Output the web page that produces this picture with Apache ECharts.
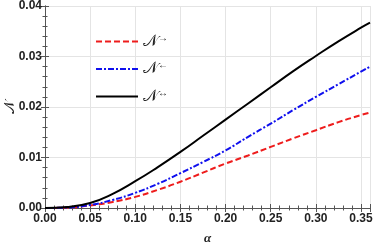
<!DOCTYPE html>
<html><head><meta charset="utf-8">
<script src="https://cdn.jsdelivr.net/npm/echarts@6/dist/echarts.min.js"></script>
<style>html,body{margin:0;padding:0;background:#fff}#c{width:374px;height:246px}</style>
</head><body><div id="c"></div>
<script>
const alpha = [0, 0.025, 0.05, 0.075, 0.10, 0.125, 0.15, 0.175, 0.20, 0.225, 0.25, 0.275, 0.30, 0.325, 0.35, 0.36];
const nRight = [0, 0.0001, 0.0005, 0.0012, 0.0022, 0.0036, 0.0052, 0.0070, 0.0088, 0.0104, 0.0121, 0.0138, 0.0154, 0.0170, 0.0184, 0.0189];
const nLeft  = [0, 0.0001, 0.0006, 0.0016, 0.0030, 0.0048, 0.0069, 0.0091, 0.0114, 0.0141, 0.0167, 0.0194, 0.0220, 0.0245, 0.0270, 0.0280];
const nBoth  = [0, 0.0002, 0.0010, 0.0028, 0.0053, 0.0081, 0.0111, 0.0143, 0.0175, 0.0207, 0.0239, 0.0271, 0.0301, 0.0330, 0.0357, 0.0367];
const seriesNames = ['→', '←', '↔'];

const pairs = ys => alpha.map((a, i) => [a, ys[i]]);
const axisLine = {show: true, lineStyle: {color: '#555', width: 1}};
const chart = echarts.init(document.getElementById('c'), null, {renderer: 'canvas'});
const lbl = {fontFamily: 'Liberation Sans', fontWeight: 'bold', fontSize: 12, color: '#222'};
chart.setOption({
  animation: false,
  grid: {left: 45, right: 4, top: 6, bottom: 38, containLabel: false, outerBoundsMode: 'none'},
  legend: {
    orient: 'vertical', left: 90, top: 28, itemWidth: 42, itemHeight: 12, itemGap: 11,
    itemStyle: {opacity: 0},
    formatter: n => '{n|𝒩}{s|' + n + '}',
    textStyle: {rich: {n: {fontFamily: 'DejaVu Serif', fontSize: 16, color: '#222'}, s: {fontSize: 10, color: '#222', verticalAlign: 'top', padding: [0,0,7,0]}}},
    data: seriesNames
  },
  xAxis: [{
    type: 'value', min: 0, max: 0.36, interval: 0.05, name: 'α', nameLocation: 'middle', nameGap: 24, nameMoveOverlap: false,
    nameTextStyle: {fontFamily: 'Liberation Serif', fontStyle: 'italic', fontWeight: 'bold', fontSize: 13, color: '#222'},
    axisLine, axisTick: {inside: true, length: 4, lineStyle: {color: '#555'}},
    minorTick: {show: true, splitNumber: 5, length: 2.5, lineStyle: {color: '#555'}},
    splitLine: {show: true, lineStyle: {color: '#e4e4e4'}},
    axisLabel: Object.assign({formatter: v => v.toFixed(2), margin: 5}, lbl)
  }, {
    type: 'value', position: 'top', min: 0, max: 0.36, interval: 0.05,
    axisLine, axisTick: {inside: true, length: 4, lineStyle: {color: '#555'}},
    minorTick: {show: true, splitNumber: 5, length: 2.5, lineStyle: {color: '#555'}},
    splitLine: {show: false}, axisLabel: {show: false}
  }],
  yAxis: [{
    type: 'value', min: 0, max: 0.04, interval: 0.01, name: '𝒩', nameLocation: 'middle', nameGap: 28, nameRotate: 90, nameMoveOverlap: false,
    nameTextStyle: {fontFamily: 'DejaVu Serif', fontSize: 14, color: '#222'},
    axisLine, axisTick: {inside: true, length: 4, lineStyle: {color: '#555'}},
    minorTick: {show: true, splitNumber: 5, length: 2.5, lineStyle: {color: '#555'}},
    splitLine: {show: true, lineStyle: {color: '#e4e4e4'}},
    axisLabel: Object.assign({formatter: v => v.toFixed(2), margin: 3}, lbl)
  }, {
    type: 'value', position: 'right', min: 0, max: 0.04, interval: 0.01,
    axisLine, axisTick: {inside: true, length: 4, lineStyle: {color: '#555'}},
    minorTick: {show: true, splitNumber: 5, length: 2.5, lineStyle: {color: '#555'}},
    splitLine: {show: false}, axisLabel: {show: false}
  }],
  series: [
    {name: seriesNames[0], type: 'line', smooth: 0.5, symbol: 'none', data: pairs(nRight),
     itemStyle: {color: '#ee1c1c'}, lineStyle: {color: '#ee1c1c', width: 2, type: [6, 3]}},
    {name: seriesNames[1], type: 'line', smooth: 0.5, symbol: 'none', data: pairs(nLeft),
     itemStyle: {color: '#1010ee'}, lineStyle: {color: '#1010ee', width: 2, type: [6, 2, 2, 2]}},
    {name: seriesNames[2], type: 'line', smooth: 0.5, symbol: 'none', data: pairs(nBoth),
     itemStyle: {color: '#000'}, lineStyle: {color: '#000', width: 2}}
  ]
});
</script></body></html>
